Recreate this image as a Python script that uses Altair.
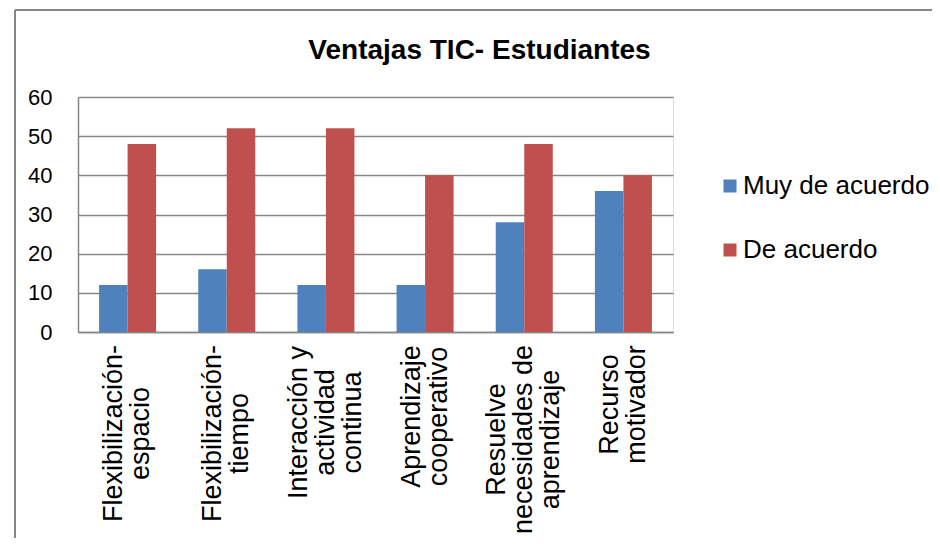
import json
import altair as alt
import pandas as pd

categories = [
    "Flexibilización-|espacio",
    "Flexibilización-|tiempo",
    "Interacción y|actividad|continua",
    "Aprendizaje|cooperativo",
    "Resuelve|necesidades de|aprendizaje",
    "Recurso|motivador",
]
series = ["Muy de acuerdo", "De acuerdo"]
muy_de_acuerdo = [12, 16, 12, 12, 28, 36]
de_acuerdo = [48, 52, 52, 40, 48, 40]
y_ticks = [0, 10, 20, 30, 40, 50, 60]
colors = ["#4F81BD", "#C0504D"]

rows = []
for i, c in enumerate(categories):
    rows.append({"categoria": c, "serie": series[0], "valor": muy_de_acuerdo[i]})
    rows.append({"categoria": c, "serie": series[1], "valor": de_acuerdo[i]})
df = pd.DataFrame(rows)

FONT = "Liberation Sans"
GRAY = "#868686"
LABEL_SIZE = 27
LINE_H = 27

# distance from axis to centre of each rotated label block (top-aligned look)
label_pad = [101, 101, 90, 84, 107, 72]
pad_conditions = [
    {"test": f"datum.value === {json.dumps(c)}", "value": p}
    for c, p in zip(categories, label_pad)
]
# centre the multi-line block on the category
offset_conditions = [
    {"test": f"datum.value === {json.dumps(c)}", "value": -(len(c.split('|')) - 1) * LINE_H / 2}
    for c in categories
]

bars = alt.Chart(df).mark_bar().encode(
    x=alt.X(
        "categoria:N",
        sort=categories,
        scale=alt.Scale(paddingInner=0.425, paddingOuter=0.2125),
        axis=alt.Axis(
            title=None,
            labelExpr="split(datum.label, '|')",
            labelAngle=-90,
            labelAlign="center",
            labelBaseline="middle",
            labelFont=FONT,
            labelFontSize=LABEL_SIZE,
            labelLineHeight=LINE_H,
            labelColor="black",
            labelPadding={"condition": pad_conditions, "value": 90},
            labelOffset={"condition": offset_conditions, "value": 0},
            labelOverlap=False,
            labelBound=False,
            ticks=False,
            domainColor=GRAY,
            domainWidth=1.5,
            grid=False,
            labelLimit=0,
        ),
    ),
    xOffset=alt.XOffset("serie:N", sort=series, scale=alt.Scale(paddingInner=0, paddingOuter=0)),
    y=alt.Y(
        "valor:Q",
        scale=alt.Scale(domain=[0, 60], nice=False),
        axis=alt.Axis(
            title=None,
            values=y_ticks,
            labelFont=FONT,
            labelFontSize=22,
            labelColor="black",
            labelPadding=26,
            ticks=False,
            domainColor=GRAY,
            domainWidth=1.5,
            grid=True,
            gridColor=GRAY,
            gridWidth=1.5,
        ),
    ),
    color=alt.Color(
        "serie:N",
        sort=series,
        scale=alt.Scale(domain=series, range=colors),
        legend=alt.Legend(
            orient="none",
            legendX=639,
            legendY=76,
            title=None,
            symbolType="square",
            symbolSize=169,
            symbolStrokeWidth=0,
            labelFont=FONT,
            labelFontSize=26,
            labelColor="black",
            labelOffset=0,
            labelLimit=0,
            rowPadding=38,
            padding=0,
        ),
    ),
)

frame_v = alt.Chart(alt.Data(values=[{}])).mark_rule(color=GRAY, strokeWidth=2).encode(
    x=alt.value(-63), y=alt.value(-87), y2=alt.value(460)
)
frame_h = alt.Chart(alt.Data(values=[{}])).mark_rule(color=GRAY, strokeWidth=2).encode(
    x=alt.value(-63), x2=alt.value(870), y=alt.value(-87)
)

chart = alt.layer(bars, frame_v, frame_h).properties(
    width=595,
    height=235,
    autosize=alt.AutoSizeParams(type="none"),
    padding={"left": 70, "top": 89, "right": 259, "bottom": 206},
    title=alt.TitleParams(
        "Ventajas TIC- Estudiantes",
        font=FONT,
        fontSize=28,
        fontWeight="bold",
        color="black",
        anchor="middle",
        baseline="alphabetic",
        dx=104,
        dy=78,
        offset=0,
    ),
).configure_view(stroke=None).configure(background="white")

chart.save("out.html", embed_options={"renderer": "svg", "actions": False})
